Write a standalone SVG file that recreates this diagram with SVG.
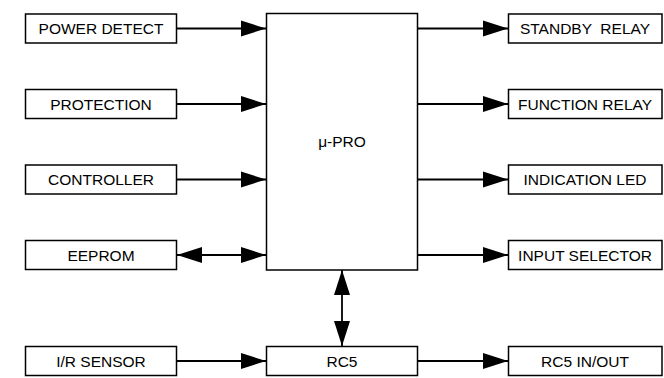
<svg xmlns="http://www.w3.org/2000/svg" width="664" height="378" viewBox="0 0 664 378">
<style>
.box{fill:#fff;stroke:#000;stroke-width:1.5}
.t{font-family:"Liberation Sans",Arial,sans-serif;font-size:15.5px;fill:#000;text-anchor:middle}
.c{stroke:#000;stroke-width:1.8;fill:none}
</style>
<defs>
<marker id="ah" markerUnits="userSpaceOnUse" markerWidth="26" markerHeight="18" refX="25" refY="8" orient="auto-start-reverse" viewBox="0 0 26 16">
<path d="M0,0 L25,8 L0,16 Z" fill="#000"/>
</marker>
</defs>
<g id="connectors">
<line class="c" x1="176" y1="28.5" x2="266" y2="28.5" marker-end="url(#ah)"/>
<line class="c" x1="176" y1="104" x2="266" y2="104" marker-end="url(#ah)"/>
<line class="c" x1="176" y1="179.5" x2="266" y2="179.5" marker-end="url(#ah)"/>
<line class="c" x1="177" y1="255" x2="266" y2="255" marker-start="url(#ah)" marker-end="url(#ah)"/>
<line class="c" x1="418" y1="28.5" x2="508" y2="28.5" marker-end="url(#ah)"/>
<line class="c" x1="418" y1="104" x2="508" y2="104" marker-end="url(#ah)"/>
<line class="c" x1="418" y1="179.5" x2="508" y2="179.5" marker-end="url(#ah)"/>
<line class="c" x1="418" y1="255" x2="508" y2="255" marker-end="url(#ah)"/>
<line class="c" x1="342" y1="270" x2="342" y2="346" marker-start="url(#ah)" marker-end="url(#ah)"/>
<line class="c" x1="176" y1="361" x2="266" y2="361" marker-end="url(#ah)"/>
<line class="c" x1="418" y1="361" x2="508" y2="361" marker-end="url(#ah)"/>
</g>
<g id="power-detect"><rect class="box" x="25.5" y="14" width="151" height="29"/><text class="t" x="101" y="34">POWER DETECT</text></g>
<g id="protection"><rect class="box" x="25.5" y="89.5" width="151" height="29"/><text class="t" x="101" y="109.5">PROTECTION</text></g>
<g id="controller"><rect class="box" x="25.5" y="165" width="151" height="29"/><text class="t" x="101" y="185">CONTROLLER</text></g>
<g id="eeprom"><rect class="box" x="25.5" y="240.5" width="151" height="29"/><text class="t" x="101" y="260.5">EEPROM</text></g>
<g id="mu-pro"><rect class="box" x="266.5" y="13.5" width="151" height="256.5"/><text class="t" x="342" y="147">μ-PRO</text></g>
<g id="standby-relay"><rect class="box" x="508.5" y="14" width="153.5" height="29"/><text class="t" x="585" y="34" xml:space="preserve">STANDBY  RELAY</text></g>
<g id="function-relay"><rect class="box" x="508.5" y="89.5" width="153.5" height="29"/><text class="t" x="585" y="109.5">FUNCTION RELAY</text></g>
<g id="indication-led"><rect class="box" x="508.5" y="165" width="153.5" height="29"/><text class="t" x="585" y="185">INDICATION LED</text></g>
<g id="input-selector"><rect class="box" x="508.5" y="240.5" width="153.5" height="29"/><text class="t" x="585" y="260.5">INPUT SELECTOR</text></g>
<g id="ir-sensor"><rect class="box" x="25.5" y="346.5" width="151" height="29"/><text class="t" x="101" y="366.5">I/R SENSOR</text></g>
<g id="rc5"><rect class="box" x="266.5" y="346.5" width="151" height="29"/><text class="t" x="342" y="366.5">RC5</text></g>
<g id="rc5-inout"><rect class="box" x="508.5" y="346.5" width="153.5" height="29"/><text class="t" x="585" y="366.5">RC5 IN/OUT</text></g>
</svg>
